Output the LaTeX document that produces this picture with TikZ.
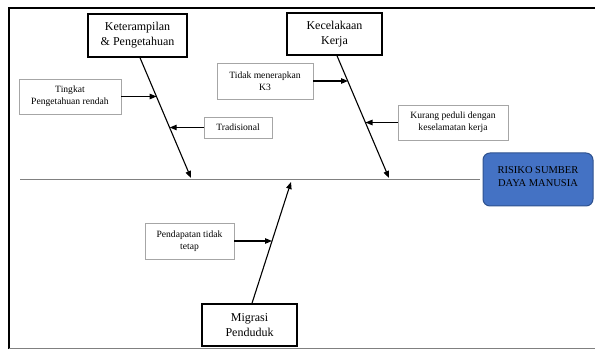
\documentclass[tikz,border=0pt]{standalone}
\usepackage{fontspec}
\setmainfont{Liberation Serif}
\usetikzlibrary{arrows.meta}
\definecolor{riskfill}{HTML}{4472C4}
\definecolor{riskline}{HTML}{2F528F}
\definecolor{subline}{HTML}{A6A6A6}
\definecolor{spinecol}{HTML}{808080}

\begin{document}
\begin{tikzpicture}[x=1pt,y=-1pt,
  mainbox/.style={draw=black, line width=1.5pt, inner sep=0pt, align=center,
    font=\fontsize{12}{15}\selectfont},
  subbox/.style={draw=subline, line width=0.9pt, inner sep=0pt, align=center,
    font=\fontsize{9.6}{12}\selectfont},
  headbox/.style={draw=riskline, fill=riskfill, line width=1pt, rounded corners=7pt,
    inner sep=0pt},
  headtext/.style={align=center, font=\fontsize{10.5}{13}\selectfont, yshift=3pt},
  bone/.style={line width=1.1pt, -{Triangle[length=7pt,width=5.5pt]}},
  spine/.style={draw=spinecol, line width=1pt}]
\useasboundingbox (0,0) rectangle (595,350);

% outer frame
\draw[line width=2.2pt] (9,349) -- (9,8) -- (595,8);
\draw[spinecol, line width=1.4pt] (9,348.5) -- (595,348.5);

% main category boxes
\node[mainbox, minimum width=99pt, minimum height=43pt] (ket) at (137.5,35.5) {Keterampilan\\\& Pengetahuan};
\node[mainbox, minimum width=95pt, minimum height=42pt] (kec) at (334.5,34) {Kecelakaan\\Kerja};
\node[mainbox, minimum width=95pt, minimum height=42pt] (mig) at (249.5,325) {Migrasi\\Penduduk};

% cause boxes
\node[subbox, minimum width=102pt, minimum height=35pt] (ting) at (70,96.5) {Tingkat\\Pengetahuan rendah};
\node[subbox, minimum width=68pt, minimum height=21pt] (trad) at (238,127.5) {Tradisional};
\node[subbox, minimum width=96pt, minimum height=36pt] (tidak) at (265,81) {Tidak menerapkan\\K3};
\node[subbox, minimum width=110pt, minimum height=35pt] (kur) at (453,122.5) {Kurang peduli dengan\\keselamatan kerja};
\node[subbox, minimum width=89pt, minimum height=36pt] (pend) at (189.5,241) {Pendapatan tidak\\tetap};

% effect (head)
\node[headbox, minimum width=110pt, minimum height=53pt,
  label={[headtext]center:RISIKO SUMBER\\DAYA MANUSIA}] (risk) at (538,179.5) {};

% spine
\coordinate (spL) at (20,180);
\coordinate (spR) at (480,180);
\draw[spine] (spL) -- (spR);

% bone end points on the spine
\coordinate (ketHead) at (191,178);
\coordinate (kecHead) at (389,178);
\coordinate (migHead) at (291,182);

% points where the causes meet the bones
\coordinate (tingTip) at (156.6,96.5);
\coordinate (tradTip) at (169.7,127.5);
\coordinate (tidakTip) at (348,81);
\coordinate (kurTip) at (365.5,122.5);
\coordinate (pendTip) at (272,241);

% bones
\draw[bone] ([xshift=2.5pt]ket.south) -- (ketHead);
\draw[bone] ([xshift=2.5pt]kec.south) -- (kecHead);
\draw[bone] ([xshift=2.5pt]mig.north) -- (migHead);

% cause arrows
\draw[bone] (ting.east) -- (tingTip);
\draw[bone] (trad.west) -- (tradTip);
\draw[bone] (tidak.east) -- (tidakTip);
\draw[bone] (kur.west) -- (kurTip);
\draw[bone] (pend.east) -- (pendTip);
\end{tikzpicture}
\end{document}
